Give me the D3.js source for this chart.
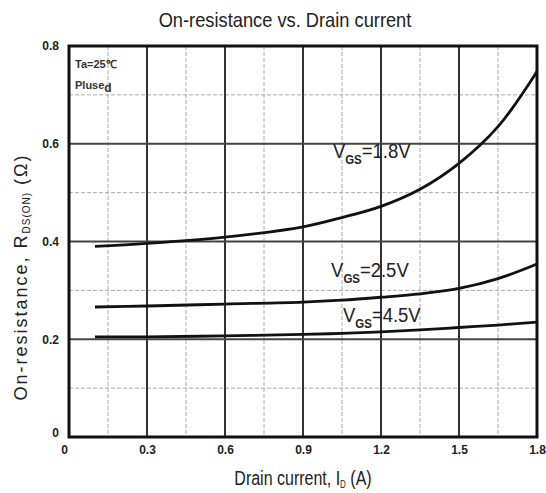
<!DOCTYPE html>
<html>
<head>
<meta charset="utf-8">
<script src="https://cdn.jsdelivr.net/npm/d3@7"></script>
<style>
  body { margin: 0; background: #fff; }
  svg { display: block; }
  text { font-family: "Liberation Sans", Arial, sans-serif; }
  .tick text { font-weight: bold; font-size: 12px; fill: #222; }
</style>
</head>
<body>
<div class="graph"></div>
<script>
// datos
const currents = [0.1, 0.3, 0.6, 0.9, 1.05, 1.2, 1.35, 1.5, 1.65, 1.8]
const rVgs18 = [0.390, 0.396, 0.409, 0.430, 0.449, 0.472, 0.507, 0.560, 0.635, 0.748]
const rVgs25 = [0.266, 0.268, 0.272, 0.276, 0.280, 0.286, 0.293, 0.304, 0.324, 0.354]
const rVgs45 = [0.205, 0.205, 0.207, 0.210, 0.212, 0.215, 0.219, 0.224, 0.229, 0.235]
const seriesNames = ['1.8V', '2.5V', '4.5V']
const xTicks = [0, 0.3, 0.6, 0.9, 1.2, 1.5, 1.8]
const yTicks = [0, 0.2, 0.4, 0.6, 0.8]
const xMinor = [0.15, 0.45, 0.75, 1.05, 1.35, 1.65]
const yMinor = [0.1, 0.3, 0.5, 0.7]

const width = 546, height = 493
const margin = {top: 46, right: 9, bottom: 56, left: 69}
const w = width - margin.left - margin.right,
      h = height - margin.top - margin.bottom

const svg = d3.select('.graph').append('svg')
  .attr('width', width).attr('height', height)

const g = svg.append('g').attr('transform', `translate(${margin.left},${margin.top})`)

const xScale = d3.scaleLinear().domain([0, 1.8]).range([0, w])
const yScale = d3.scaleLinear().domain([0, 0.8]).range([h, 0])

// rejilla menor (discontinua)
g.selectAll('.vminor').data(xMinor).enter().append('line')
  .attr('x1', d => xScale(d)).attr('x2', d => xScale(d))
  .attr('y1', 0).attr('y2', h)
  .attr('stroke', '#aaa').attr('stroke-width', 1).attr('stroke-dasharray', '4,2')
g.selectAll('.hminor').data(yMinor).enter().append('line')
  .attr('y1', d => yScale(d)).attr('y2', d => yScale(d))
  .attr('x1', 0).attr('x2', w)
  .attr('stroke', '#aaa').attr('stroke-width', 1).attr('stroke-dasharray', '4,2')

// rejilla mayor
g.selectAll('.vmajor').data(xTicks.slice(1, -1)).enter().append('line')
  .attr('x1', d => xScale(d)).attr('x2', d => xScale(d))
  .attr('y1', 0).attr('y2', h)
  .attr('stroke', '#333').attr('stroke-width', 2)
g.selectAll('.hmajor').data(yTicks.slice(1, -1)).enter().append('line')
  .attr('y1', d => yScale(d)).attr('y2', d => yScale(d))
  .attr('x1', 0).attr('x2', w)
  .attr('stroke', '#444').attr('stroke-width', 2)

// ejes
const xAxis = d3.axisBottom(xScale).tickValues(xTicks).tickSize(0).tickPadding(8)
  .tickFormat(d => d === 0 ? '0' : d3.format('.1f')(d))
g.append('g').attr('transform', `translate(0,${h})`).call(xAxis)
  .call(a => a.select('.domain').remove())
  .selectAll('text').attr('dx', d => d === 0 ? -5 : 0)

const yAxis = d3.axisLeft(yScale).tickValues(yTicks).tickSize(0).tickPadding(10)
  .tickFormat(d => d === 0 ? '0' : d3.format('.1f')(d))
g.append('g').call(yAxis)
  .call(a => a.select('.domain').remove())
  .selectAll('text').attr('dy', d => d === 0 ? '-0.05em' : '0.32em')

// marco
g.append('rect').attr('width', w).attr('height', h)
  .attr('fill', 'none').attr('stroke', '#111').attr('stroke-width', 3)

// curvas
const line = d3.line().x(d => xScale(d[0])).y(d => yScale(d[1])).curve(d3.curveCatmullRom.alpha(0.5))
const allSeries = [rVgs18, rVgs25, rVgs45]
g.selectAll('.curve').data(allSeries).enter().append('path')
  .attr('d', s => line(currents.map((c, i) => [c, s[i]])))
  .attr('fill', 'none').attr('stroke', '#111').attr('stroke-width', 2.8)

// etiquetas de las curvas
const labelPos = [[1.015, 0.571], [1.008, 0.327], [1.054, 0.235]]
labelPos.forEach((p, i) => {
  const t = g.append('text')
    .attr('transform', `translate(${xScale(p[0])},${yScale(p[1])}) scale(0.88,1)`)
    .attr('font-size', 21).attr('fill', '#222')
  t.append('tspan').text('V')
  t.append('tspan').attr('font-size', 13).attr('font-weight', 'bold').attr('dy', 6).text('GS')
  t.append('tspan').attr('dy', -6).text('=' + seriesNames[i])
})

// anotaciones
g.append('text').attr('x', 6).attr('y', 22)
  .attr('font-size', 11).attr('font-weight', 'bold').attr('fill', '#333').text('Ta=25℃')
const pl = g.append('text').attr('x', 6).attr('y', 43)
  .attr('font-size', 11).attr('font-weight', 'bold').attr('fill', '#333')
pl.append('tspan').text('Pluse')
pl.append('tspan').attr('dy', 3).attr('font-size', 12).text('d')

// título
svg.append('text')
  .attr('transform', 'translate(285,27) scale(0.87,1)').attr('text-anchor', 'middle')
  .attr('font-size', 21).attr('fill', '#222').text('On-resistance vs. Drain current')

// título eje X
const xl = svg.append('text')
  .attr('transform', 'translate(303,485) scale(0.8,1)').attr('text-anchor', 'middle')
  .attr('font-size', 20).attr('fill', '#222')
xl.append('tspan').text('Drain current, I')
xl.append('tspan').attr('font-size', 10).attr('dy', 3).text('D')
xl.append('tspan').attr('dy', -3).text(' (A)')

// título eje Y
const yl = svg.append('text')
  .attr('transform', `translate(27,277) rotate(-90)`).attr('text-anchor', 'middle')
  .attr('font-size', 18).attr('letter-spacing', 2).attr('fill', '#222')
yl.append('tspan').text('On-resistance, R')
yl.append('tspan').attr('font-size', 10).attr('dy', 3).attr('letter-spacing', 1).text('DS(ON)')
yl.append('tspan').attr('dy', -3).text(' (Ω)')
</script>
</body>
</html>
